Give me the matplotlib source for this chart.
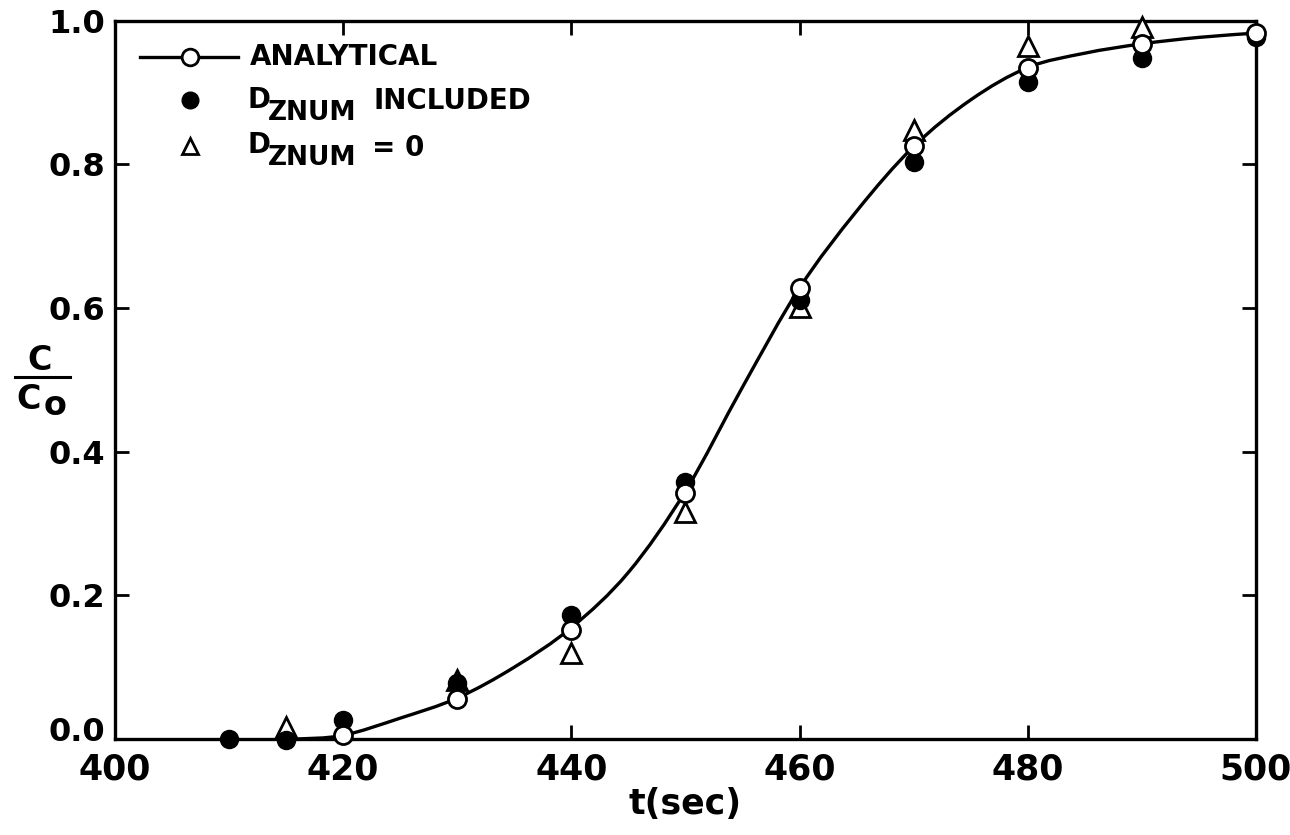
import numpy as np
import matplotlib.pyplot as plt
import matplotlib.transforms as mtransforms
from matplotlib.path import Path
from matplotlib.patches import PathPatch

# analytical curve, C/Co vs t
t_curve = np.array([416, 420, 425, 430, 435, 440, 445, 450, 455, 460,
                    465, 470, 475, 480, 485, 490, 495, 500])
c_curve = np.array([0.0, 0.005, 0.029, 0.057, 0.100, 0.155, 0.232, 0.345, 0.490, 0.628,
                    0.735, 0.825, 0.890, 0.935, 0.955, 0.968, 0.977, 0.983])

# analytical points (open circles)
t_an = np.array([420, 430, 440, 450, 460, 470, 480, 490, 500])
c_an = np.array([0.005, 0.056, 0.152, 0.343, 0.628, 0.826, 0.935, 0.968, 0.983])

# numerical, DZNUM included (filled circles)
t_inc = np.array([410, 415, 420, 430, 440, 450, 460, 470, 480, 490, 500])
c_inc = np.array([0.0, -0.002, 0.026, 0.078, 0.173, 0.358, 0.611, 0.804, 0.915, 0.948, 0.978])

# numerical, DZNUM = 0 (open triangles)
t_zero = np.array([415, 430, 440, 450, 460, 470, 480, 490])
c_zero = np.array([0.017, 0.082, 0.120, 0.316, 0.602, 0.848, 0.965, 0.992])

x_ticks = [400, 420, 440, 460, 480, 500]
y_ticks = [0.0, 0.2, 0.4, 0.6, 0.8, 1.0]

plt.rcParams['font.family'] = ['DejaVu Sans']
plt.rcParams['font.weight'] = 'bold'


def smooth_path(x, y):
    # catmull-rom through the points, written as cubic bezier segments
    pts = np.column_stack([x, y]).astype(float)
    verts = [pts[0]]
    codes = [Path.MOVETO]
    n = len(pts)
    for i in range(n - 1):
        p0 = pts[max(i - 1, 0)]
        p1 = pts[i]
        p2 = pts[i + 1]
        p3 = pts[min(i + 2, n - 1)]
        verts += [p1 + (p2 - p0) / 6.0, p2 - (p3 - p1) / 6.0, p2]
        codes += [Path.CURVE4] * 3
    return Path(verts, codes)


fig = plt.figure(figsize=(12.9, 8.35), dpi=100)
ax = fig.add_axes([0.0891, 0.115, 0.8845, 0.860])

ax.add_patch(PathPatch(smooth_path(t_curve, c_curve), fc='none', ec='black',
                       lw=2.4, zorder=2, clip_on=False))
ax.plot(t_zero, c_zero, ls='none', marker='^', ms=14, mfc='white', mec='black',
        mew=2, zorder=3, clip_on=False)
ax.plot(t_inc, c_inc, ls='none', marker='o', ms=13, mfc='black', mec='black',
        zorder=4, clip_on=False)
ax.plot(t_an, c_an, ls='none', marker='o', ms=13, mfc='white', mec='black',
        mew=2, zorder=5, clip_on=False)

ax.set_xlim(400, 500)
ax.set_ylim(0, 1.0)
ax.set_xticks(x_ticks)
ax.set_yticks(y_ticks)
ax.set_yticklabels([f'{v:.1f}' for v in y_ticks])
ax.tick_params(direction='in', length=10, width=2, top=True, right=True)
ax.tick_params(axis='x', pad=10, labelsize=25)
ax.tick_params(axis='y', pad=7, labelsize=23)
for s in ax.spines.values():
    s.set_linewidth(2.4)

# lift the 0.0 label a little so it clears the 400 below it
lab0 = ax.get_yticklabels()[0]
lab0.set_transform(lab0.get_transform() +
                   mtransforms.ScaledTranslation(0, 7 / 72, fig.dpi_scale_trans))

ax.set_xlabel('t(sec)', fontsize=25, fontweight='bold', labelpad=0)

# y label drawn as a fraction C / Co
fig.text(0.031, 0.568, 'C', fontsize=24, fontweight='bold', ha='center', va='center')
fig.add_artist(plt.Line2D([0.012, 0.054], [0.548, 0.548], color='black', lw=2.2))
fig.text(0.022, 0.521, 'C', fontsize=24, fontweight='bold', ha='center', va='center')
fig.text(0.043, 0.514, 'o', fontsize=24, fontweight='bold', ha='center', va='center')


# legend, placed in pixel positions
def fx(px):
    return px / 1290.0


def fy(py):
    return 1 - py / 835.0


fig.add_artist(plt.Line2D([fx(140), fx(238)], [fy(57), fy(57)], color='black', lw=2.4))
fig.add_artist(plt.Line2D([fx(190)], [fy(57)], ls='none', marker='o', ms=12,
                          mfc='white', mec='black', mew=2))
fig.text(fx(250), fy(57), 'ANALYTICAL', fontsize=20, fontweight='bold', va='center')

fig.add_artist(plt.Line2D([fx(190)], [fy(100)], ls='none', marker='o', ms=12,
                          mfc='black', mec='black'))
fig.text(fx(247), fy(100), 'D', fontsize=20, fontweight='bold', va='center')
fig.text(fx(268), fy(113), 'ZNUM', fontsize=19, fontweight='bold', va='center')
fig.text(fx(374), fy(101), 'INCLUDED', fontsize=20, fontweight='bold', va='center')

fig.add_artist(plt.Line2D([fx(190)], [fy(146)], ls='none', marker='^', ms=11,
                          mfc='white', mec='black', mew=2))
fig.text(fx(247), fy(145), 'D', fontsize=20, fontweight='bold', va='center')
fig.text(fx(268), fy(158), 'ZNUM', fontsize=19, fontweight='bold', va='center')
fig.text(fx(372), fy(148), '= 0', fontsize=20, fontweight='bold', va='center')

fig.savefig('out.png', dpi=100)
